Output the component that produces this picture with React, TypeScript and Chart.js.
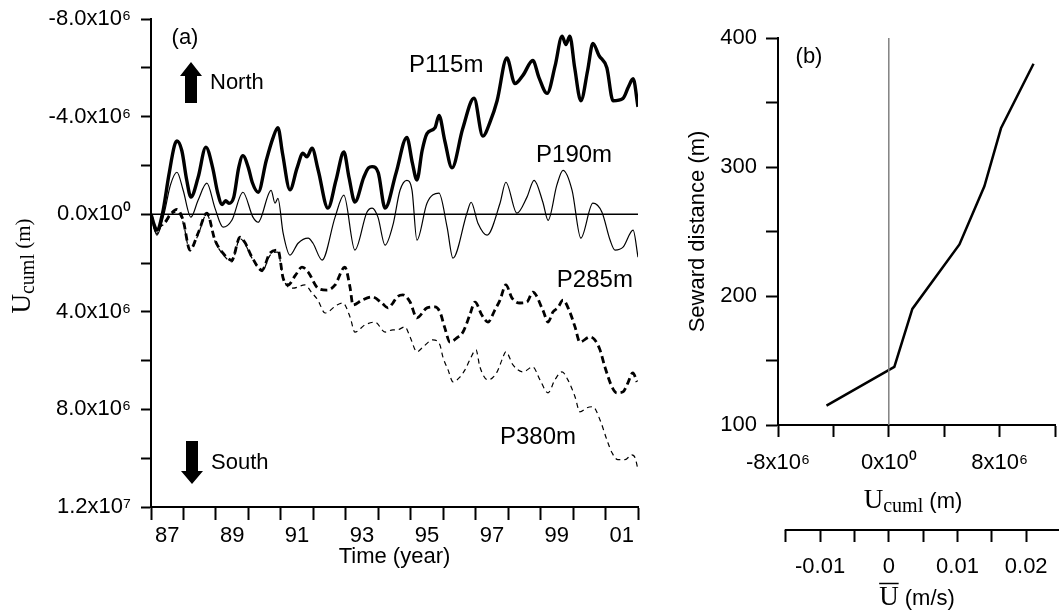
import React, { useEffect, useRef } from 'react';
import { Chart, registerables } from 'chart.js';

Chart.register(...registerables);

const SANS = '"Liberation Sans", Arial, Helvetica, sans-serif';
const SERIF = '"Liberation Serif", "Times New Roman", Times, serif';

// ---------------- Panel (a): cumulative displacement, units of 1e6 m ----------------
// [year, Ucuml (x1e6 m)]
const p115Series: [number, number][] = [
  [1987.0, 0.0], [1987.1, 0.45], [1987.18, 0.65], [1987.35, 0.0], [1987.55, -1.6], [1987.72, -2.8],
  [1987.8, -3.0], [1987.95, -2.6], [1988.1, -1.4], [1988.23, -0.7], [1988.45, -1.5], [1988.69, -2.75],
  [1988.9, -1.9], [1989.05, -0.9], [1989.19, -0.4], [1989.3, -0.55], [1989.4, -0.45], [1989.55, -0.7],
  [1989.7, -1.9], [1989.83, -2.4], [1990.0, -1.9], [1990.12, -1.3], [1990.3, -0.9], [1990.55, -2.2],
  [1990.75, -3.1], [1990.91, -3.55], [1991.05, -2.5], [1991.28, -1.0], [1991.5, -1.9], [1991.68, -2.5],
  [1991.8, -2.35], [1991.96, -2.7], [1992.15, -1.8], [1992.45, -0.25], [1992.7, -1.4], [1992.94, -2.55],
  [1993.1, -1.5], [1993.28, -0.5], [1993.55, -1.5], [1993.7, -1.9], [1993.81, -1.95], [1994.0, -1.7],
  [1994.21, -0.25], [1994.55, -1.7], [1994.88, -3.15], [1995.05, -2.1], [1995.19, -1.4], [1995.35, -2.6],
  [1995.5, -3.3], [1995.75, -3.55], [1995.87, -4.05], [1996.05, -3.0], [1996.27, -1.9], [1996.6, -3.5],
  [1996.95, -4.75], [1997.22, -3.2], [1997.45, -3.8], [1997.66, -4.65], [1997.96, -6.4], [1998.21, -5.35],
  [1998.46, -5.7], [1998.76, -6.3], [1998.95, -5.6], [1999.2, -4.95], [1999.45, -6.1], [1999.66, -7.3],
  [1999.78, -6.95], [1999.9, -7.3], [2000.05, -6.0], [2000.24, -4.65], [2000.45, -5.9], [2000.61, -7.0],
  [2000.8, -6.5], [2001.04, -6.0], [2001.23, -4.65], [2001.54, -4.75], [2001.7, -5.2], [2001.85, -5.55],
  [2002.0, -4.4],
];

const p190Series: [number, number][] = [
  [1987.0, 0.0], [1987.18, 0.86], [1987.4, 0.0], [1987.6, -1.2], [1987.8, -1.72], [1987.99, -0.98],
  [1988.23, 0.12], [1988.45, -0.57], [1988.72, -1.27], [1988.97, -0.25], [1989.22, 0.53], [1989.49, 0.25],
  [1989.83, -0.9], [1990.14, 0.12], [1990.3, 0.33], [1990.7, -0.98], [1990.82, -0.45], [1990.91, -0.65],
  [1991.07, 0.78], [1991.28, 1.68], [1991.53, 1.19], [1991.84, 0.98], [1991.99, 1.19], [1992.27, 1.88],
  [1992.67, 0.12], [1992.94, -0.78], [1993.28, 1.47], [1993.65, -0.08], [1993.81, -0.25], [1993.99, 0.12],
  [1994.21, 1.27], [1994.45, 0.45], [1994.67, -0.98], [1994.88, -1.39], [1995.04, -0.98], [1995.19, 1.06],
  [1995.5, -0.45], [1995.87, -0.86], [1996.12, 0.53], [1996.3, 1.8], [1996.73, -0.04], [1996.86, -0.49],
  [1997.07, 0.37], [1997.35, 0.86], [1997.75, -0.45], [1997.93, -1.31], [1998.27, -0.04], [1998.58, -0.7],
  [1998.8, -1.39], [1999.07, -0.49], [1999.23, 0.25], [1999.5, -1.19], [1999.69, -1.8], [1999.97, -0.98],
  [2000.24, 0.98], [2000.61, -0.45], [2000.89, -0.08], [2001.14, 1.06], [2001.29, 1.47], [2001.54, 1.35],
  [2001.85, 0.65], [2002.0, 1.76],
];

const p285Series: [number, number][] = [
  [1987.0, 0.0], [1987.18, 0.74], [1987.3, 0.45], [1987.43, 0.33], [1987.6, 0.0], [1987.8, -0.2],
  [1987.99, 0.25], [1988.2, 1.47], [1988.45, 0.78], [1988.72, -0.04], [1988.97, 1.06], [1989.22, 1.6],
  [1989.49, 1.88], [1989.74, 0.94], [1989.89, 1.15], [1990.11, 1.76], [1990.42, 2.29], [1990.66, 1.6],
  [1990.91, 1.47], [1991.07, 2.62], [1991.22, 2.9], [1991.45, 2.5], [1991.65, 2.17], [1991.84, 2.37],
  [1992.14, 3.03], [1992.42, 3.11], [1992.67, 2.9], [1992.97, 2.17], [1993.13, 2.99], [1993.22, 3.72],
  [1993.5, 3.52], [1993.81, 3.39], [1994.11, 3.64], [1994.3, 3.84], [1994.45, 3.64], [1994.58, 3.39],
  [1994.76, 3.31], [1994.98, 3.6], [1995.19, 4.25], [1995.5, 3.84], [1995.75, 3.8], [1995.9, 4.01],
  [1996.05, 4.66], [1996.21, 5.24], [1996.42, 5.07], [1996.61, 4.83], [1996.82, 4.13], [1996.98, 3.6],
  [1997.19, 4.13], [1997.38, 4.42], [1997.59, 3.93], [1997.75, 3.52], [1997.93, 2.9], [1998.12, 3.44],
  [1998.36, 3.64], [1998.58, 3.6], [1998.76, 3.19], [1999.07, 3.93], [1999.23, 4.42], [1999.38, 4.01],
  [1999.53, 3.84], [1999.69, 3.52], [1999.9, 4.01], [2000.06, 4.62], [2000.21, 5.24], [2000.52, 5.03],
  [2000.67, 5.15], [2000.83, 5.56], [2000.98, 6.26], [2001.2, 7.08], [2001.35, 7.32], [2001.54, 7.28],
  [2001.69, 6.91], [2001.84, 6.5], [2001.97, 6.87],
];

const p380Series: [number, number][] = [
  [1987.0, 0.0], [1987.18, 0.8], [1987.3, 0.5], [1987.43, 0.4], [1987.6, 0.05], [1987.8, -0.1],
  [1987.99, 0.35], [1988.2, 1.5], [1988.45, 0.85], [1988.72, 0.0], [1988.97, 1.1], [1989.22, 1.65],
  [1989.49, 1.95], [1989.74, 1.0], [1989.89, 1.2], [1990.11, 1.8], [1990.42, 2.35], [1990.66, 1.7],
  [1990.91, 1.55], [1991.07, 2.62], [1991.37, 3.03], [1991.74, 2.9], [1991.96, 3.23], [1992.14, 3.52],
  [1992.36, 4.05], [1992.73, 3.72], [1992.91, 3.64], [1993.13, 4.21], [1993.28, 4.83], [1993.59, 4.54],
  [1993.9, 4.42], [1994.21, 4.83], [1994.45, 4.74], [1994.58, 4.74], [1994.82, 4.62], [1994.98, 5.03],
  [1995.19, 5.64], [1995.38, 5.44], [1995.68, 5.15], [1995.9, 5.36], [1995.99, 5.85], [1996.15, 6.38],
  [1996.3, 6.87], [1996.52, 6.67], [1996.67, 6.38], [1996.82, 5.97], [1997.01, 5.56], [1997.13, 6.26],
  [1997.38, 6.79], [1997.66, 6.46], [1997.81, 5.97], [1997.93, 5.64], [1998.15, 6.18], [1998.46, 6.46],
  [1998.76, 6.26], [1998.98, 6.79], [1999.23, 7.32], [1999.44, 6.79], [1999.66, 6.46], [1999.84, 6.79],
  [2000.06, 7.48], [2000.21, 8.1], [2000.43, 7.93], [2000.61, 7.89], [2000.83, 8.43], [2001.04, 9.24],
  [2001.2, 9.78], [2001.38, 10.06], [2001.6, 10.06], [2001.81, 9.86], [2001.91, 9.98], [2002.0, 10.47],
];

const yearTicks = [1987, 1988, 1989, 1990, 1991, 1992, 1993, 1994, 1995, 1996, 1997, 1998, 1999, 2000, 2001, 2002];
const yearLabelPositions = [1987.5, 1989.5, 1991.5, 1993.5, 1995.5, 1997.5, 1999.5, 2001.5];
const yearLabels = ['87', '89', '91', '93', '95', '97', '99', '01'];

const ucumlTicksA = [-8, -6, -4, -2, 0, 2, 4, 6, 8, 10, 12];
const ucumlLabelValuesA = [-8, -4, 0, 4, 8, 12];
const ucumlLabelsA = ['-8.0x10⁶', '-4.0x10⁶', '0.0x10⁰', '4.0x10⁶', '8.0x10⁶', '1.2x10⁷'];

const seriesNames = ['P115m', 'P190m', 'P285m', 'P380m'];
const seriesLabelYears = [1994.95, 1998.86, 1999.5, 1997.75];
const seriesLabelValues = [-6.1, -2.4, 2.7, 9.15];

// ---------------- Panel (b): profile ----------------
const sewardDistance = [115, 145, 190, 240, 285, 330, 380];
const profileUcuml = [-4.5, 0.4, 1.7, 5.1, 6.9, 8.1, 10.45];

const distanceTicks = [100, 150, 200, 250, 300, 350, 400];
const distanceLabelValues = [100, 200, 300, 400];

const ucumlTicksB = [-8, -4, 0, 4, 8, 12];
const ucumlLabelValuesB = [-8, 0, 8];
const ucumlLabelsB = ['-8x10⁶', '0x10⁰', '8x10⁶'];

const meanSpeedTicks = [-0.015, -0.01, -0.005, 0, 0.005, 0.01, 0.015, 0.02];
const meanSpeedLabelValues = [-0.01, 0, 0.01, 0.02];
const meanSpeedLabels = ['-0.01', '0', '0.01', '0.02'];
const meanSpeedRange = [-0.016128, 0.024192];

const near = (a: number, b: number) => Math.abs(a - b) < 1e-9;
const lookup = (v: number, vals: number[], labels: string[]) => {
  const i = vals.findIndex((x) => near(x, v));
  return i >= 0 ? labels[i] : '';
};
const toPoints = (s: [number, number][]) => s.map(([x, y]) => ({ x, y }));

function drawUcumlTitle(ctx: CanvasRenderingContext2D, cx: number, baseline: number, parenFont: string, rotate: boolean) {
  ctx.save();
  ctx.fillStyle = '#000';
  ctx.textBaseline = 'alphabetic';
  ctx.textAlign = 'left';
  const fU = `27px ${SERIF}`;
  const fSub = `20px ${SERIF}`;
  ctx.font = fU;
  const wU = ctx.measureText('U').width;
  ctx.font = fSub;
  const wSub = ctx.measureText('cuml').width;
  ctx.font = parenFont;
  const wP = ctx.measureText(' (m)').width;
  const total = wU + wSub + wP;
  if (rotate) {
    ctx.translate(baseline, cx);
    ctx.rotate(-Math.PI / 2);
  } else {
    ctx.translate(cx, baseline);
  }
  let x = -total / 2;
  ctx.font = fU;
  ctx.fillText('U', x, 0);
  x += wU;
  ctx.font = fSub;
  ctx.fillText('cuml', x, 4);
  x += wSub;
  ctx.font = parenFont;
  ctx.fillText(' (m)', x, 0);
  ctx.restore();
}

const panelAPlugin = {
  id: 'panelADecor',
  afterDraw(chart: any) {
    const { ctx, scales } = chart;
    const xs = scales.x;
    const ys = scales.y;
    ctx.save();
    ctx.fillStyle = '#000';
    ctx.textBaseline = 'middle';
    ctx.textAlign = 'center';
    ctx.font = `22px ${SANS}`;
    ctx.fillText('(a)', 185, 38);

    // North arrow
    ctx.beginPath();
    ctx.moveTo(191, 62);
    ctx.lineTo(202, 76);
    ctx.lineTo(197, 76);
    ctx.lineTo(197, 103);
    ctx.lineTo(185, 103);
    ctx.lineTo(185, 76);
    ctx.lineTo(180, 76);
    ctx.closePath();
    ctx.fill();
    // South arrow
    ctx.beginPath();
    ctx.moveTo(192, 484);
    ctx.lineTo(203, 471);
    ctx.lineTo(198, 471);
    ctx.lineTo(198, 441);
    ctx.lineTo(186, 441);
    ctx.lineTo(186, 471);
    ctx.lineTo(181, 471);
    ctx.closePath();
    ctx.fill();

    ctx.textAlign = 'left';
    ctx.font = `22px ${SANS}`;
    ctx.fillText('North', 210, 83);
    ctx.fillText('South', 211, 463);

    ctx.font = `24px ${SANS}`;
    seriesNames.forEach((name, i) => {
      ctx.fillText(name, xs.getPixelForValue(seriesLabelYears[i]), ys.getPixelForValue(seriesLabelValues[i]));
    });
    ctx.restore();

    drawUcumlTitle(ctx, (ys.top + ys.bottom) / 2 + 3, 30, `21px ${SERIF}`, true);
  },
};

const panelBPlugin = {
  id: 'panelBDecor',
  afterDraw(chart: any) {
    const { ctx, scales, width } = chart;
    const x2 = scales.x2;
    ctx.save();
    ctx.fillStyle = '#000';
    ctx.strokeStyle = '#000';
    ctx.textBaseline = 'middle';
    ctx.textAlign = 'center';
    ctx.font = `22px ${SANS}`;
    ctx.fillText('(b)', 129, 57);

    // secondary axis line
    ctx.lineWidth = 2;
    ctx.beginPath();
    ctx.moveTo(x2.getPixelForValue(meanSpeedTicks[0]) - 1, x2.top);
    ctx.lineTo(width, x2.top);
    ctx.stroke();

    // mean speed title with overline
    ctx.textBaseline = 'alphabetic';
    ctx.textAlign = 'left';
    ctx.font = `27px ${SERIF}`;
    const wU = ctx.measureText('U').width;
    ctx.font = `22px ${SANS}`;
    const wR = ctx.measureText(' (m/s)').width;
    const start = 237 - (wU + wR) / 2;
    ctx.font = `27px ${SERIF}`;
    ctx.fillText('U', start, 605);
    ctx.lineWidth = 1.5;
    ctx.beginPath();
    ctx.moveTo(start, 583.5);
    ctx.lineTo(start + wU, 583.5);
    ctx.stroke();
    ctx.font = `22px ${SANS}`;
    ctx.fillText(' (m/s)', start + wU, 605);
    ctx.restore();

    drawUcumlTitle(ctx, 233, 508, `22px ${SANS}`, false);
  },
};

function PanelA() {
  const ref = useRef<HTMLCanvasElement>(null);
  useEffect(() => {
    if (!ref.current) return;
    const smooth = { cubicInterpolationMode: 'monotone', pointRadius: 0, borderColor: '#000' };
    const chart = new Chart(ref.current, {
      type: 'line',
      data: {
        datasets: [
          {
            label: 'zero',
            data: [{ x: yearTicks[0], y: 0 }, { x: yearTicks[yearTicks.length - 1], y: 0 }],
            borderColor: '#000',
            borderWidth: 1.5,
            pointRadius: 0,
          },
          { label: 'P115m', data: toPoints(p115Series), borderWidth: 3.4, borderJoinStyle: 'round', ...smooth },
          { label: 'P190m', data: toPoints(p190Series), borderWidth: 1.2, ...smooth },
          { label: 'P285m', data: toPoints(p285Series), borderWidth: 2.8, borderDash: [7, 4], ...smooth },
          { label: 'P380m', data: toPoints(p380Series), borderWidth: 1.2, borderDash: [5, 4], ...smooth },
        ] as any,
      },
      options: {
        animation: false,
        responsive: false,
        maintainAspectRatio: false,
        layout: { padding: { left: 0, top: 19, right: 42, bottom: 0 } },
        elements: { line: { tension: 0 } },
        plugins: { legend: { display: false }, tooltip: { enabled: false } },
        scales: {
          x: {
            type: 'linear',
            min: yearTicks[0],
            max: yearTicks[yearTicks.length - 1],
            afterBuildTicks: (s: any) => {
              s.ticks = [...yearTicks, ...yearLabelPositions].sort((a, b) => a - b).map((v) => ({ value: v }));
            },
            afterFit: (s: any) => {
              s.height = 104;
              s.paddingLeft = 0;
              s.paddingRight = 0;
            },
            ticks: {
              autoSkip: false,
              maxRotation: 0,
              minRotation: 0,
              padding: 3,
              color: '#000',
              font: { size: 22, family: SANS },
              callback: (v: any) => lookup(Number(v), yearLabelPositions, yearLabels),
            },
            grid: {
              drawOnChartArea: false,
              drawTicks: true,
              tickLength: 13,
              tickWidth: 2,
              tickColor: (c: any) => (yearTicks.some((y) => near(y, c.tick?.value)) ? '#000' : 'rgba(0,0,0,0)'),
            },
            border: { display: true, color: '#000', width: 2 },
            title: {
              display: true,
              text: 'Time (year)',
              color: '#000',
              font: { size: 22, family: SANS },
              padding: { top: 0, bottom: 41 },
            },
          },
          y: {
            type: 'linear',
            reverse: true,
            min: ucumlTicksA[0],
            max: ucumlTicksA[ucumlTicksA.length - 1],
            afterBuildTicks: (s: any) => {
              s.ticks = ucumlTicksA.map((v) => ({ value: v }));
            },
            afterFit: (s: any) => {
              s.width = 151;
              s.paddingTop = 0;
              s.paddingBottom = 0;
            },
            ticks: {
              autoSkip: false,
              padding: 10,
              color: '#000',
              font: { size: 22, family: SANS },
              callback: (v: any) => lookup(Number(v), ucumlLabelValuesA, ucumlLabelsA),
            },
            grid: { drawOnChartArea: false, drawTicks: true, tickLength: 10, tickWidth: 2, tickColor: '#000' },
            border: { display: true, color: '#000', width: 2 },
          },
        },
      } as any,
      plugins: [panelAPlugin],
    });
    return () => chart.destroy();
  }, []);
  return <canvas ref={ref} width={680} height={611} style={{ position: 'absolute', left: 0, top: 0, width: 680, height: 611 }} />;
}

function PanelB() {
  const ref = useRef<HTMLCanvasElement>(null);
  useEffect(() => {
    if (!ref.current) return;
    const chart = new Chart(ref.current, {
      type: 'line',
      data: {
        datasets: [
          {
            label: 'zero',
            data: [{ x: 0, y: distanceTicks[0] }, { x: 0, y: distanceTicks[distanceTicks.length - 1] }],
            borderColor: '#808080',
            borderWidth: 1.5,
            pointRadius: 0,
          },
          {
            label: 'profile',
            data: sewardDistance.map((d, i) => ({ x: profileUcuml[i], y: d })),
            borderColor: '#000',
            borderWidth: 2.5,
            pointRadius: 0,
          },
        ] as any,
      },
      options: {
        animation: false,
        responsive: false,
        maintainAspectRatio: false,
        layout: { padding: { left: 0, top: 38, right: 4, bottom: 0 } },
        elements: { line: { tension: 0 } },
        plugins: { legend: { display: false }, tooltip: { enabled: false } },
        scales: {
          x: {
            type: 'linear',
            position: 'bottom',
            weight: 0,
            min: ucumlTicksB[0],
            max: ucumlTicksB[ucumlTicksB.length - 1],
            afterBuildTicks: (s: any) => {
              s.ticks = ucumlTicksB.map((v) => ({ value: v }));
            },
            afterFit: (s: any) => {
              s.height = 105;
              s.paddingLeft = 0;
              s.paddingRight = 0;
            },
            ticks: {
              autoSkip: false,
              maxRotation: 0,
              minRotation: 0,
              padding: 13,
              color: '#000',
              font: { size: 22, family: SANS },
              callback: (v: any) => lookup(Number(v), ucumlLabelValuesB, ucumlLabelsB),
            },
            grid: { drawOnChartArea: false, drawTicks: true, tickLength: 12, tickWidth: 2, tickColor: '#000' },
            border: { display: true, color: '#000', width: 2 },
          },
          x2: {
            type: 'linear',
            position: 'bottom',
            weight: 1,
            min: meanSpeedRange[0],
            max: meanSpeedRange[1],
            afterBuildTicks: (s: any) => {
              s.ticks = meanSpeedTicks.map((v) => ({ value: v }));
            },
            afterFit: (s: any) => {
              s.height = 81;
              s.paddingLeft = 0;
              s.paddingRight = 0;
            },
            ticks: {
              autoSkip: false,
              maxRotation: 0,
              minRotation: 0,
              padding: 12,
              color: '#000',
              font: { size: 22, family: SANS },
              callback: (v: any) => lookup(Number(v), meanSpeedLabelValues, meanSpeedLabels),
            },
            grid: { drawOnChartArea: false, drawTicks: true, tickLength: 12, tickWidth: 2, tickColor: '#000' },
            border: { display: false },
          },
          y: {
            type: 'linear',
            min: distanceTicks[0],
            max: distanceTicks[distanceTicks.length - 1],
            afterBuildTicks: (s: any) => {
              s.ticks = distanceTicks.map((v) => ({ value: v }));
            },
            afterFit: (s: any) => {
              s.width = 98;
              s.paddingTop = 0;
              s.paddingBottom = 0;
            },
            ticks: {
              autoSkip: false,
              padding: 9,
              color: '#000',
              font: { size: 22, family: SANS },
              callback: (v: any) => (distanceLabelValues.some((d) => near(d, Number(v))) ? String(v) : ''),
            },
            grid: { drawOnChartArea: false, drawTicks: true, tickLength: 12, tickWidth: 2, tickColor: '#000' },
            border: { display: true, color: '#000', width: 2 },
            title: {
              display: true,
              text: 'Seward distance (m)',
              color: '#000',
              font: { size: 22, family: SANS },
              padding: { top: 5, bottom: 0 },
            },
          },
        },
      } as any,
      plugins: [panelBPlugin],
    });
    return () => chart.destroy();
  }, []);
  return <canvas ref={ref} width={379} height={611} style={{ position: 'absolute', left: 680, top: 0, width: 379, height: 611 }} />;
}

export default function App() {
  return (
    <div style={{ position: 'absolute', left: 0, top: 0, width: 1059, height: 611, background: '#fff', overflow: 'hidden' }}>
      <PanelA />
      <PanelB />
    </div>
  );
}
